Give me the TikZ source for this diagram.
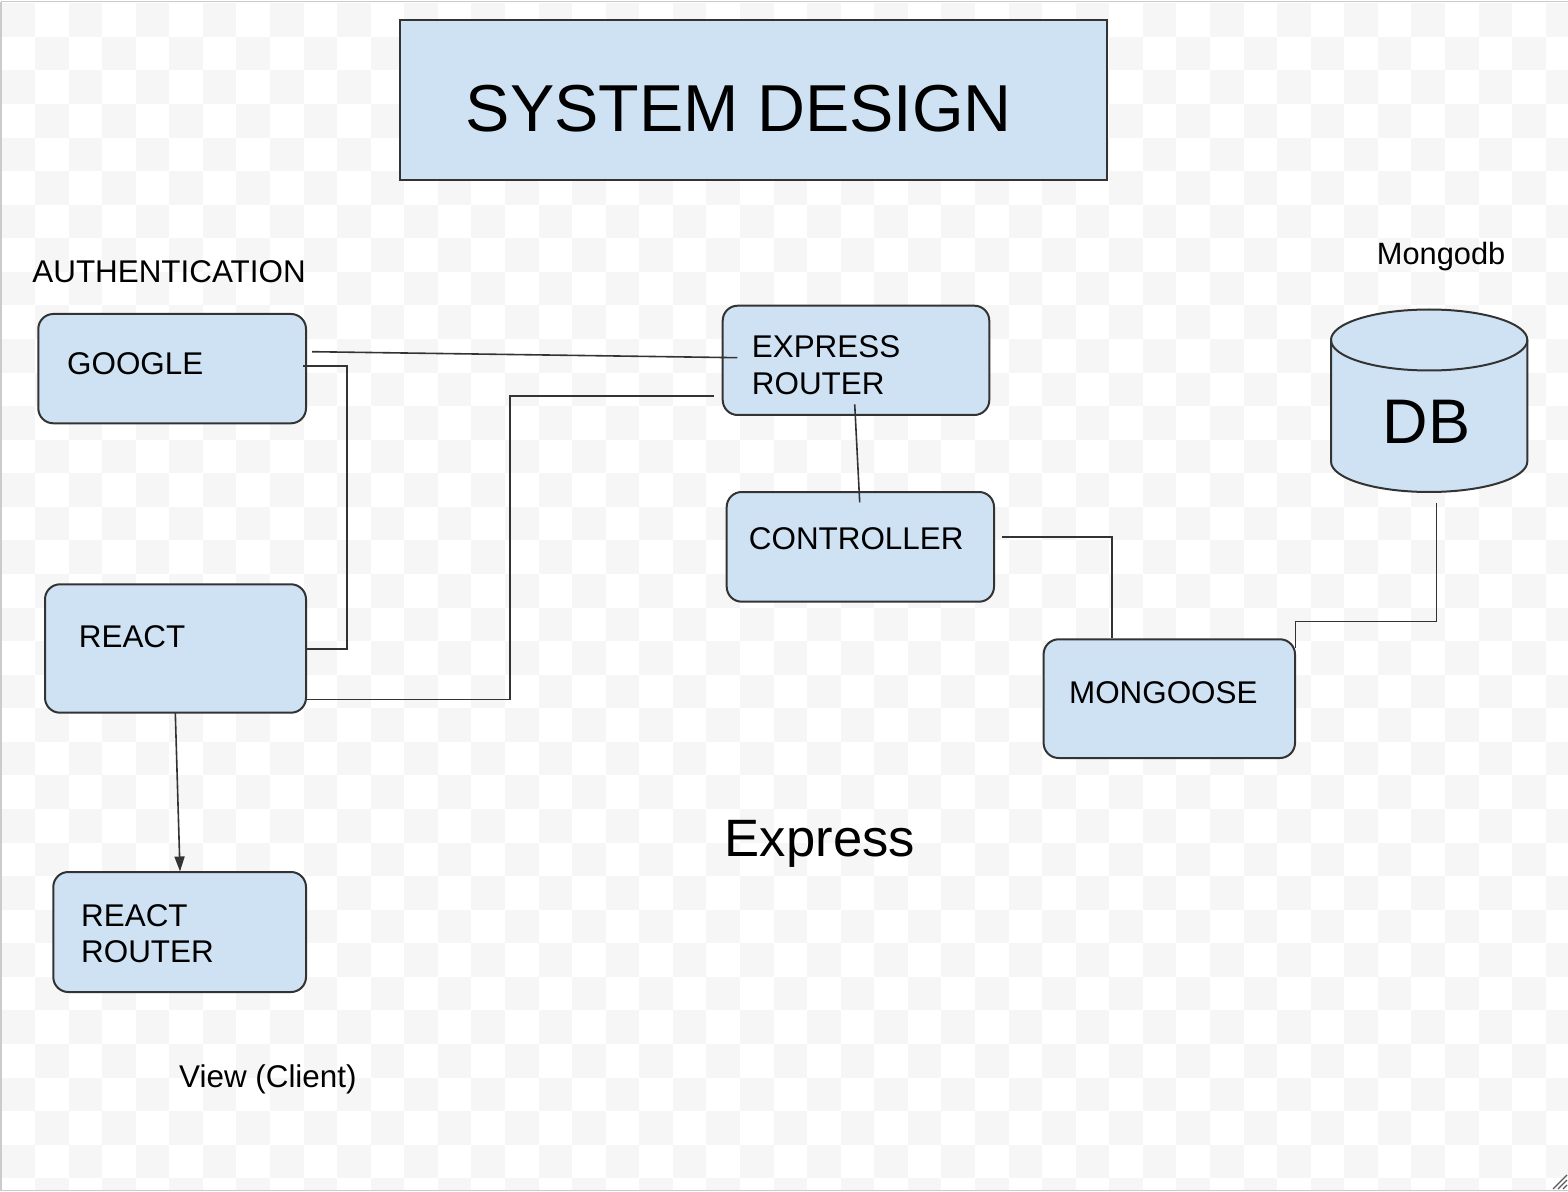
\documentclass[tikz,border=0pt]{standalone}
\usepackage{fontspec}
\setmainfont{Liberation Sans}
\usetikzlibrary{arrows.meta,fit}
\definecolor{boxblue}{HTML}{CFE2F3}
\definecolor{edgegray}{HTML}{333333}
\definecolor{checker}{HTML}{F6F6F6}
\definecolor{framegray}{HTML}{CBCBCB}
\begin{document}
\begin{tikzpicture}[x=0.5pt,y=-0.5pt,
  box/.style={draw=edgegray, line width=1pt, fill=boxblue, rounded corners=7.5pt, inner sep=0pt},
  titlebox/.style={draw=edgegray, line width=1pt, fill=boxblue, inner sep=0pt},
  wire/.style={draw=edgegray, line width=0.8pt},
  lbl/.style={anchor=base west, inner sep=0pt, font=\fontsize{15.7}{18}\selectfont, align=left},
]
\useasboundingbox (0,0) rectangle (1568,1192);
\fill[white] (0,0) rectangle (1568,1192);
% checkerboard background
\begin{scope}
  \clip (1.5,3.3) rectangle (1568,1190);
  \foreach \r in {0,...,35}{
    \pgfmathtruncatemacro\s{mod(\r,2)}
    \pgfmathtruncatemacro\t{\s+2}
    \foreach \c in {\s,\t,...,46}{
      \fill[checker] ({1.4+\c*33.57},{3.3+\r*33.57}) rectangle ++(33.57,33.57);
    }
  }
\end{scope}
% frame
\draw[framegray, line width=0.8pt] (0.8,1.6) -- (1568,1.6);
\draw[framegray, line width=0.8pt] (0.8,1.6) -- (0.8,1190.6);
\draw[framegray, line width=0.8pt] (0.8,1190.6) -- (1568,1190.6);
% resize grip
\draw[gray!70!black, line width=0.6pt] (1553,1189) -- (1567,1175);
\draw[gray!70!black, line width=0.6pt] (1558,1189) -- (1567,1180);
\draw[gray!70!black, line width=0.6pt] (1563,1189) -- (1567,1185);

% title
\node[titlebox, fit={(400,20.5) (1107,180)}] (title) {};
\node[anchor=base west, inner sep=0pt, font=\fontsize{33.2}{39}\selectfont] (titletxt) at (465.5,131.7) {SYSTEM DESIGN};

% boxes
\node[box, fit={(38.3,314) (306,423.3)}] (google) {};
\node[box, fit={(45,584.3) (306,712.7)}] (react) {};
\node[box, fit={(53.3,872) (306,992)}] (rrouter) {};
\node[box, fit={(722.7,305.7) (989.3,415)}] (express) {};
\node[box, fit={(726.7,492) (994,601.7)}] (controller) {};
\node[box, fit={(1043.6,639.3) (1295,758)}] (mongoose) {};

% database cylinder
\path[fill=boxblue, draw=edgegray, line width=1pt]
  (1331,340) -- (1331,461.5)
  .. controls (1331,478.35) and (1374.95,492) .. (1429.15,492)
  .. controls (1483.35,492) and (1527.3,478.35) .. (1527.3,461.5)
  -- (1527.3,340)
  .. controls (1527.3,323.15) and (1483.35,309.5) .. (1429.15,309.5)
  .. controls (1374.95,309.5) and (1331,323.15) .. (1331,340) -- cycle;
\draw[edgegray, line width=1pt]
  (1331,340) .. controls (1331,356.85) and (1374.95,370.5) .. (1429.15,370.5)
  .. controls (1483.35,370.5) and (1527.3,356.85) .. (1527.3,340);
\node[fit={(1331,309.5) (1527.3,492)}, inner sep=0pt] (db) {};
\node[anchor=base west, inner sep=0pt, font=\fontsize{31.5}{38}\selectfont] (dbtxt) at (1382.5,443.3) {DB};

% box texts
\node[lbl] (googletxt) at (66.8,375) {GOOGLE};
\node[lbl] (reacttxt) at (78.5,647.7) {REACT};
\node[lbl] (rroutertxt) at (80.8,962) {REACT\\ROUTER};
\node[lbl] (expresstxt) at (751.5,394) {EXPRESS\\ROUTER};
\node[lbl] (controllertxt) at (748.5,549) {CONTROLLER};
\node[lbl] (mongoosetxt) at (1068.7,703.3) {MONGOOSE};

% free labels
\node[lbl] (auth) at (32,282.3) {AUTHENTICATION};
\node[anchor=base west, inner sep=0pt, font=\fontsize{15.4}{18}\selectfont] (mongodb) at (1376.5,265) {Mongodb};
\node[anchor=base west, inner sep=0pt, font=\fontsize{26.3}{31}\selectfont] (expresslbl) at (724.5,856.7) {Express};
\node[lbl] (viewclient) at (178.8,1087.7) {View (Client)};

% connector end points
\coordinate (gA) at (312,351.7);
\coordinate (gB) at (737.3,357.7);
\coordinate (grA) at (303.3,366);
\coordinate (grB) at (346.7,366);
\coordinate (grC) at (346.7,648.7);
\coordinate (reA) at (510,699.3);
\coordinate (reB) at (510,395.8);
\coordinate (reC) at (714.3,395.8);
\coordinate (ecA) at (854.7,404.3);
\coordinate (ecB) at (859.7,502.3);
\coordinate (cmA) at (1002,536.7);
\coordinate (cmB) at (1112,536.7);
\coordinate (dmA) at (1436.4,502.7);
\coordinate (dmB) at (1436.4,621.3);
\coordinate (dmC) at (1295.4,621.3);
\coordinate (dmD) at (1295.4,648);
\coordinate (rrA) at (175.3,712.7);
\coordinate (rrB) at (180,871.5);

% connectors
\draw[wire] (gA) -- (gB);
\draw[wire] (grA) -- (grB) -- (grC) -- (react.east |- grC);
\draw[wire] (react.east |- reA) -- (reA) -- (reB) -- (reC);
\draw[wire] (ecA) -- (ecB);
\draw[wire] (cmA) -- (cmB) -- (cmB |- mongoose.north);
\draw[wire] (dmA) -- (dmB) -- (dmC) -- (dmD);
\draw[wire, -{Triangle[length=7.5pt,width=5pt]}] (rrA) -- (rrB);
\end{tikzpicture}
\end{document}
